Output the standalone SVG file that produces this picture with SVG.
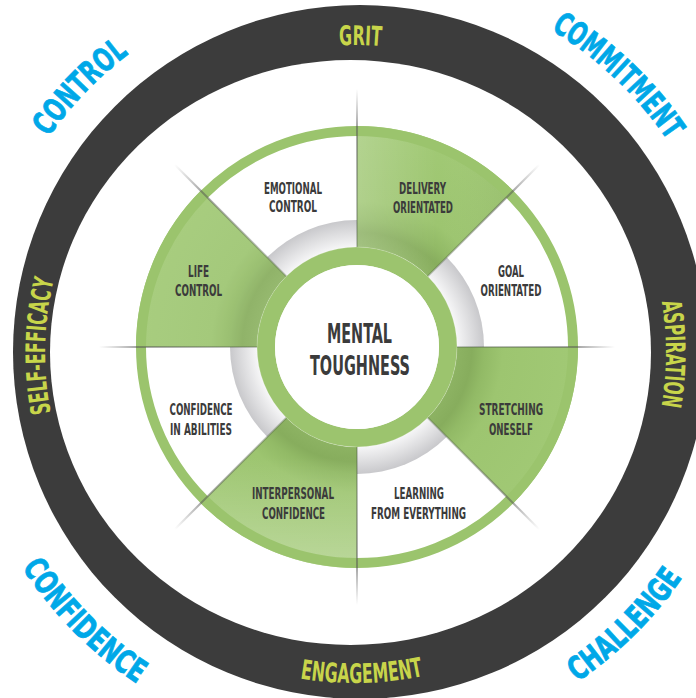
<svg xmlns="http://www.w3.org/2000/svg" width="696" height="698" viewBox="0 0 696 698">
<defs>
<style>
.lbl{font-family:"Liberation Sans Narrow","DejaVu Sans Condensed","Liberation Sans",Arial,sans-serif;font-weight:bold;font-size:16px;fill:#3b3b3b;text-anchor:middle}
.title{font-size:26px}
.yel{font-family:"Liberation Sans Narrow","DejaVu Sans Condensed","Liberation Sans",Arial,sans-serif;font-weight:bold;font-size:27px;fill:#c8d54a;text-anchor:middle}
.blue{font-family:"Liberation Sans Narrow","DejaVu Sans Condensed","Liberation Sans",Arial,sans-serif;font-weight:900;font-size:32px;fill:#00a8e8;text-anchor:middle;stroke:#00a8e8;stroke-width:0.8}
.gseg{fill:url(#gSeg)}
.div{fill:url(#divG)}
</style>
<radialGradient id="gSeg" gradientUnits="userSpaceOnUse" cx="0" cy="0" r="221">
<stop offset="0.45" stop-color="#8db363"/>
<stop offset="0.52" stop-color="#87ad5d"/>
<stop offset="0.575" stop-color="#92ba66"/>
<stop offset="0.66" stop-color="#9dc570"/>
<stop offset="1" stop-color="#a1c975"/>
</radialGradient>
<radialGradient id="grayBand" gradientUnits="userSpaceOnUse" cx="0" cy="0" r="127">
<stop offset="0.787" stop-color="#f6f6f7"/>
<stop offset="0.9" stop-color="#dedee0"/>
<stop offset="1" stop-color="#c8c8cb"/>
</radialGradient>
<linearGradient id="divG" x1="0" y1="0" x2="1" y2="0">
<stop offset="0" stop-color="#4a5a40" stop-opacity="0.3"/>
<stop offset="0.766" stop-color="#505050" stop-opacity="0.5"/>
<stop offset="1" stop-color="#606060" stop-opacity="0"/>
</linearGradient>
<linearGradient id="delivL" gradientUnits="userSpaceOnUse" x1="0" y1="0" x2="160" y2="0">
<stop offset="0" stop-color="#ffffff" stop-opacity="0.2"/>
<stop offset="0.5" stop-color="#ffffff" stop-opacity="0"/>
<stop offset="1" stop-color="#000000" stop-opacity="0.05"/>
</linearGradient>
<linearGradient id="interL" gradientUnits="userSpaceOnUse" x1="0" y1="110" x2="0" y2="221">
<stop offset="0" stop-color="#ffffff" stop-opacity="0"/>
<stop offset="1" stop-color="#ffffff" stop-opacity="0.28"/>
</linearGradient>
<path id="pGrit" d="M254.7,61.8 A308,308 0 0 1 465.4,65.5"/>
<path id="pAsp" d="M637.3,222.5 A311,311 0 0 1 636.4,485.4"/>
<path id="pSelf" d="M83.1,501.9 A310,310 0 0 1 90.1,192"/>
<path id="pEng" d="M221.8,655 A330,330 0 0 0 500.7,649.1"/>
<path id="pControl" d="M12.6,200.2 A375,375 0 0 1 190.9,15.8"/>
<path id="pCommit" d="M474.9,-5.5 A378,378 0 0 1 706.7,214.5"/>
<path id="pChall" d="M521.5,713.4 A397,397 0 0 0 714.2,522"/>
<path id="pConf" d="M-4.8,518.5 A396,396 0 0 0 185.7,711"/>
</defs>

<rect width="696" height="698" fill="#ffffff"/>

<g id="outer-ring">
<circle cx="360" cy="352" r="347" fill="#3c3c3c"/>
<ellipse cx="350.5" cy="352.5" rx="300.5" ry="292.5" fill="#ffffff"/>
<text class="yel"><textPath href="#pGrit" startOffset="50%" textLength="42" lengthAdjust="spacingAndGlyphs">GRIT</textPath></text>
<text class="yel"><textPath href="#pAsp" startOffset="50%" textLength="105" lengthAdjust="spacingAndGlyphs">ASPIRATION</textPath></text>
<text class="yel"><textPath href="#pSelf" startOffset="50%" textLength="134" lengthAdjust="spacingAndGlyphs">SELF-EFFICACY</textPath></text>
<text class="yel"><textPath href="#pEng" startOffset="50%" textLength="124" lengthAdjust="spacingAndGlyphs">ENGAGEMENT</textPath></text>
</g>

<g id="outer-labels">
<text class="blue"><textPath href="#pControl" startOffset="50%" textLength="116" lengthAdjust="spacingAndGlyphs">CONTROL</textPath></text>
<text class="blue"><textPath href="#pCommit" startOffset="50%" textLength="162" lengthAdjust="spacingAndGlyphs">COMMITMENT</textPath></text>
<text class="blue"><textPath href="#pChall" startOffset="50%" textLength="149" lengthAdjust="spacingAndGlyphs">CHALLENGE</textPath></text>
<text class="blue"><textPath href="#pConf" startOffset="50%" textLength="165" lengthAdjust="spacingAndGlyphs">CONFIDENCE</textPath></text>
</g>

<g id="wheel" transform="translate(357,347)">
<circle r="127" fill="url(#grayBand)"/>
<g id="seg-delivery">
<path class="gseg" d="M0,-221 A221,221 0 0 1 156.27,-156.27 L70.71,-70.71 A100,100 0 0 0 0,-100 Z"/>
<path fill="url(#delivL)" d="M0,-221 A221,221 0 0 1 156.27,-156.27 L70.71,-70.71 A100,100 0 0 0 0,-100 Z"/>
</g>
<g id="seg-stretching">
<path class="gseg" d="M221,0 A221,221 0 0 1 156.27,156.27 L70.71,70.71 A100,100 0 0 0 100,0 Z"/>
</g>
<g id="seg-interpersonal">
<path class="gseg" d="M0,221 A221,221 0 0 1 -156.27,156.27 L-70.71,70.71 A100,100 0 0 0 0,100 Z"/>
<path fill="url(#interL)" d="M0,221 A221,221 0 0 1 -156.27,156.27 L-70.71,70.71 A100,100 0 0 0 0,100 Z"/>
</g>
<g id="seg-life">
<path class="gseg" d="M-221,0 A221,221 0 0 1 -156.27,-156.27 L-70.71,-70.71 A100,100 0 0 0 -100,0 Z"/>
<path fill="#ffffff" fill-opacity="0.08" d="M-221,0 A221,221 0 0 1 -156.27,-156.27 L-70.71,-70.71 A100,100 0 0 0 -100,0 Z"/>
</g>
<circle r="216" fill="none" stroke="#9bc46d" stroke-width="10"/>
<circle r="91" fill="none" stroke="#9cc46e" stroke-width="18"/>
<circle r="100" fill="none" stroke="#ffffff" stroke-opacity="0.25" stroke-width="0.8"/>
<circle r="82" fill="#ffffff"/>
<g id="dividers">
<rect class="div" x="100" y="-1" width="158" height="2" transform="rotate(0)"/>
<rect class="div" x="100" y="-1" width="158" height="2" transform="rotate(45)"/>
<rect class="div" x="100" y="-1" width="158" height="2" transform="rotate(90)"/>
<rect class="div" x="100" y="-1" width="158" height="2" transform="rotate(135)"/>
<rect class="div" x="100" y="-1" width="158" height="2" transform="rotate(180)"/>
<rect class="div" x="100" y="-1" width="158" height="2" transform="rotate(225)"/>
<rect class="div" x="100" y="-1" width="158" height="2" transform="rotate(270)"/>
<rect class="div" x="100" y="-1" width="158" height="2" transform="rotate(315)"/>
</g>
</g>

<g id="node-emotional"><text class="lbl" x="293" y="194" textLength="58" lengthAdjust="spacingAndGlyphs">EMOTIONAL</text><text class="lbl" x="293" y="212" textLength="48" lengthAdjust="spacingAndGlyphs">CONTROL</text></g>
<g id="node-delivery"><text class="lbl" x="422.5" y="194" textLength="47" lengthAdjust="spacingAndGlyphs">DELIVERY</text><text class="lbl" x="423" y="213" textLength="60" lengthAdjust="spacingAndGlyphs">ORIENTATED</text></g>
<g id="node-goal"><text class="lbl" x="511" y="277" textLength="26" lengthAdjust="spacingAndGlyphs">GOAL</text><text class="lbl" x="511" y="296" textLength="61" lengthAdjust="spacingAndGlyphs">ORIENTATED</text></g>
<g id="node-life"><text class="lbl" x="198.5" y="277" textLength="21" lengthAdjust="spacingAndGlyphs">LIFE</text><text class="lbl" x="198.5" y="296" textLength="47" lengthAdjust="spacingAndGlyphs">CONTROL</text></g>
<g id="node-abilities"><text class="lbl" x="201" y="415" textLength="63" lengthAdjust="spacingAndGlyphs">CONFIDENCE</text><text class="lbl" x="201" y="435" textLength="62" lengthAdjust="spacingAndGlyphs">IN ABILITIES</text></g>
<g id="node-stretching"><text class="lbl" x="511" y="415" textLength="64" lengthAdjust="spacingAndGlyphs">STRETCHING</text><text class="lbl" x="511" y="435" textLength="44" lengthAdjust="spacingAndGlyphs">ONESELF</text></g>
<g id="node-interpersonal"><text class="lbl" x="293" y="499" textLength="82" lengthAdjust="spacingAndGlyphs">INTERPERSONAL</text><text class="lbl" x="293.5" y="519" textLength="63" lengthAdjust="spacingAndGlyphs">CONFIDENCE</text></g>
<g id="node-learning"><text class="lbl" x="419" y="499" textLength="50" lengthAdjust="spacingAndGlyphs">LEARNING</text><text class="lbl" x="418.5" y="519" textLength="95" lengthAdjust="spacingAndGlyphs">FROM EVERYTHING</text></g>
<g id="node-center"><text class="lbl title" x="359.5" y="343" textLength="65" lengthAdjust="spacingAndGlyphs">MENTAL</text><text class="lbl title" x="360" y="375" textLength="100" lengthAdjust="spacingAndGlyphs">TOUGHNESS</text></g>
</svg>
